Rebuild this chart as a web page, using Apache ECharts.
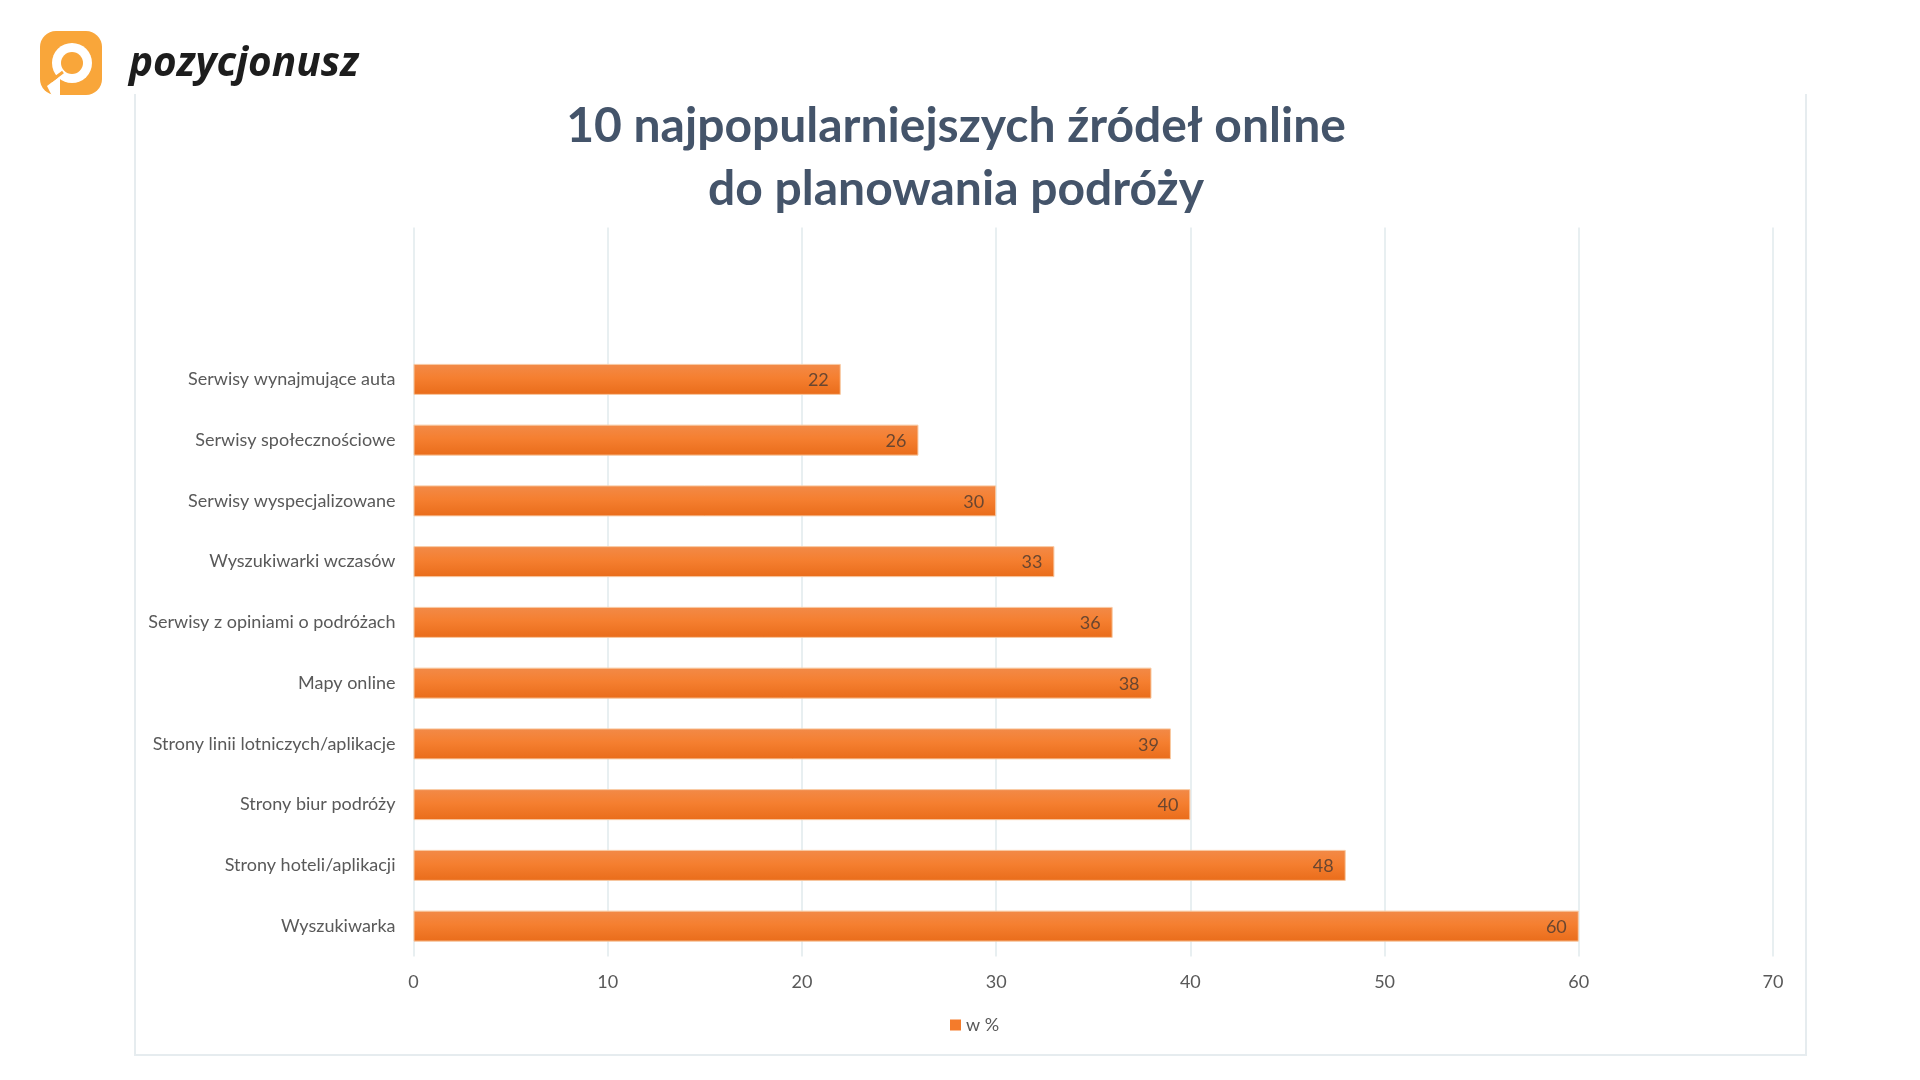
<!DOCTYPE html>
<html><head><meta charset="utf-8">
<style>html,body{margin:0;padding:0;background:#fff}#c{width:1920px;height:1080px}</style>
<script src="https://cdn.jsdelivr.net/npm/echarts@6/dist/echarts.min.js"></script>
</head><body><div id="c"></div>
<script>
const categories = ['Wyszukiwarka','Strony hoteli/aplikacji','Strony biur podróży','Strony linii lotniczych/aplikacje','Mapy online','Serwisy z opiniami o podróżach','Wyszukiwarki wczasów','Serwisy wyspecjalizowane','Serwisy społecznościowe','Serwisy wynajmujące auta','',' '];
const values = [60,48,40,39,38,36,33,30,26,22,null,null];
const xTicks = {min:0,max:70,interval:10};
const seriesName = 'w %';
const titleText = '10 najpopularniejszych źródeł online\ndo planowania podróży';
const brandText = 'pozycjonusz';
const font = 'Lato';
const chart = echarts.init(document.getElementById('c'),null,{renderer:'canvas'});
const frame = '#e6ecef';
const logo = '#f9a63a';
chart.setOption({
  animation:false,
  backgroundColor:'#fff',
  title:{text:titleText,left:951,top:90,textAlign:'center',
    textStyle:{fontFamily:font,fontWeight:700,fontSize:48,lineHeight:63,color:'#44546a'}},
  legend:{data:[seriesName],left:945,top:1011,icon:'rect',itemWidth:11,itemHeight:11,itemGap:5,
    itemStyle:{color:'#f47b2b',borderWidth:0},
    textStyle:{fontFamily:font,fontSize:18,color:'#595959'}},
  grid:{left:413.5,right:147,top:227.5,bottom:123.5,containLabel:false},
  xAxis:{type:'value',min:xTicks.min,max:xTicks.max,interval:xTicks.interval,
    axisLine:{show:false},axisTick:{show:false},
    axisLabel:{fontFamily:font,fontSize:18,color:'#595959',margin:17},
    splitLine:{show:true,lineStyle:{color:'#e1eaed',width:1.5}}},
  yAxis:{type:'category',data:categories,
    axisLine:{show:false},axisTick:{show:false},
    axisLabel:{fontFamily:font,fontSize:18,color:'#595959',margin:18}},
  series:[{name:seriesName,type:'bar',data:values,barWidth:31,
    itemStyle:{borderColor:'#f8c9a2',borderWidth:1,
      color:new echarts.graphic.LinearGradient(0,0,0,1,[{offset:0,color:'#f28a48'},{offset:0.45,color:'#f57f30'},{offset:1,color:'#e96c1a'}])},
    label:{show:true,position:'insideRight',distance:12,offset:[0,1],fontFamily:font,fontSize:18,color:'#6a4630'}}],
  graphic:[
    {type:'polyline',silent:true,shape:{points:[[135,94],[135,1055],[1806,1055],[1806,94]]},style:{stroke:frame,fill:null,lineWidth:2}},
    {type:'rect',shape:{x:40,y:31,width:62,height:64,r:16},style:{fill:logo}},
    {type:'circle',shape:{cx:72,cy:63,r:20},style:{fill:'#fff'}},
    {type:'circle',shape:{cx:72,cy:63,r:11},style:{fill:logo}},
    {type:'polygon',shape:{points:[[47,86],[60,76],[60,96],[52,96]]},style:{fill:'#fff'}},
    {type:'line',shape:{x1:51,y1:81,x2:63,y2:72},style:{stroke:logo,lineWidth:3}},
    {type:'text',style:{text:brandText,x:129,y:44,fontFamily:'Noto Sans',fontStyle:'italic',fontWeight:700,fontSize:40.5,fill:'#1d1d1d'}}
  ]
});
</script></body></html>
